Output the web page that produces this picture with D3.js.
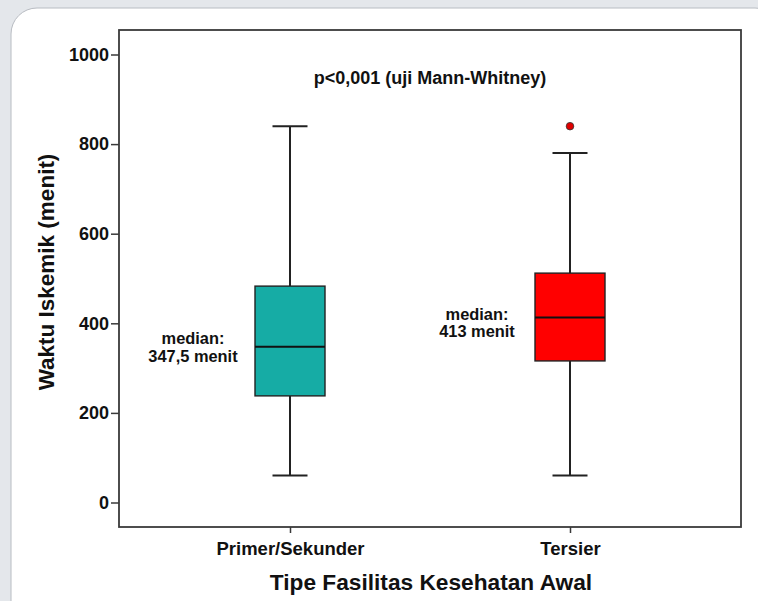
<!DOCTYPE html>
<html><head><meta charset="utf-8">
<script src="https://cdn.jsdelivr.net/npm/d3@7"></script>
<style>
html,body{margin:0;padding:0;background:#e4e7eb;}
svg{display:block;}
text{font-family:"Liberation Sans",Arial,sans-serif;}
</style></head>
<body>
<script>
const categories = ["Primer/Sekunder", "Tersier"];
const whiskerLow = [60, 60];
const q1 = [238, 316];
const medians = [347.5, 413];
const q3 = [483, 512];
const whiskerHigh = [840, 780];
const outliers = [[], [840]];
const boxColors = ["#16aca5", "#ff0000"];
const medianLabels = [["median:", "347,5 menit"], ["median:", "413 menit"]];
const yTicks = [0, 200, 400, 600, 800, 1000];

const W = 758, H = 601;
const svg = d3.select("body").append("svg").attr("width", W).attr("height", H);

// background panel
svg.append("rect").attr("x", 0).attr("y", 0).attr("width", W).attr("height", H).attr("fill", "#e4e7eb");
svg.append("rect").attr("x", 11).attr("y", 8).attr("width", 770).attr("height", 640)
  .attr("rx", 26).attr("fill", "#ffffff").attr("stroke", "#b8bcc2").attr("stroke-width", 1);

const frame = {left: 119, top: 30, right: 741, bottom: 527};
const y = d3.scaleLinear().domain([0, 1000]).range([502.5, 54.5]);
const x = d3.scalePoint().domain(categories).range([290, 570]);

// frame
svg.append("rect").attr("x", frame.left).attr("y", frame.top)
  .attr("width", frame.right - frame.left).attr("height", frame.bottom - frame.top)
  .attr("fill", "none").attr("stroke", "#3a3a3a").attr("stroke-width", 1.8);

// y axis
const yAxis = d3.axisLeft(y).tickValues(yTicks).tickSize(8).tickPadding(2).tickFormat(d3.format("d"));
const gy = svg.append("g").attr("transform", `translate(${frame.left},0)`).call(yAxis);
gy.select(".domain").remove();
gy.selectAll(".tick line").attr("stroke", "#3a3a3a").attr("stroke-width", 1.5);
gy.selectAll(".tick text").attr("font-size", 18).attr("font-weight", "bold").attr("fill", "#111");

// x axis
const xAxis = d3.axisBottom(x).tickSize(6).tickPadding(9);
const gx = svg.append("g").attr("transform", `translate(0,${frame.bottom})`).call(xAxis);
gx.select(".domain").remove();
gx.selectAll(".tick line").attr("stroke", "#3a3a3a").attr("stroke-width", 1.5);
gx.selectAll(".tick text").attr("font-size", 18.5).attr("font-weight", "bold").attr("fill", "#111");

const boxW = 70, capW = 35;
categories.forEach((c, i) => {
  const cx = x(c);
  const g = svg.append("g");
  g.append("line").attr("x1", cx).attr("x2", cx).attr("y1", y(whiskerHigh[i])).attr("y2", y(q3[i]))
    .attr("stroke", "#222").attr("stroke-width", 2);
  g.append("line").attr("x1", cx).attr("x2", cx).attr("y1", y(q1[i])).attr("y2", y(whiskerLow[i]))
    .attr("stroke", "#222").attr("stroke-width", 2);
  [whiskerHigh[i], whiskerLow[i]].forEach(v => {
    g.append("line").attr("x1", cx - capW / 2).attr("x2", cx + capW / 2).attr("y1", y(v)).attr("y2", y(v))
      .attr("stroke", "#222").attr("stroke-width", 2);
  });
  g.append("rect").attr("x", cx - boxW / 2).attr("y", y(q3[i])).attr("width", boxW)
    .attr("height", y(q1[i]) - y(q3[i])).attr("fill", boxColors[i]).attr("stroke", "#222").attr("stroke-width", 1.4);
  g.append("line").attr("x1", cx - boxW / 2).attr("x2", cx + boxW / 2).attr("y1", y(medians[i])).attr("y2", y(medians[i]))
    .attr("stroke", "#111").attr("stroke-width", 2);
  outliers[i].forEach(v => {
    g.append("circle").attr("cx", cx).attr("cy", y(v)).attr("r", 3.8)
      .attr("fill", "#e00000").attr("stroke", "#333").attr("stroke-width", 0.8);
  });
});

// median annotations
const annX = [193, 477];
const annBase = [344, 319.5];
medianLabels.forEach((lines, i) => {
  const t = svg.append("text").attr("text-anchor", "middle")
    .attr("font-size", 16.4).attr("font-weight", "bold").attr("fill", "#111");
  lines.forEach((s, k) => {
    t.append("tspan").attr("x", annX[i]).attr("y", annBase[i] + k * 17.5).text(s);
  });
});

// p-value text
svg.append("text").attr("x", 430).attr("y", 84).attr("text-anchor", "middle")
  .attr("font-size", 18).attr("font-weight", "bold").attr("fill", "#111")
  .text("p<0,001 (uji Mann-Whitney)");

// axis titles
svg.append("text").attr("x", 431).attr("y", 590).attr("text-anchor", "middle")
  .attr("font-size", 22.7).attr("font-weight", "bold").attr("fill", "#111")
  .text("Tipe Fasilitas Kesehatan Awal");
svg.append("text").attr("transform", "translate(54,272) rotate(-90)").attr("text-anchor", "middle")
  .attr("font-size", 22.5).attr("font-weight", "bold").attr("fill", "#111")
  .text("Waktu Iskemik (menit)");
</script>
</body></html>
